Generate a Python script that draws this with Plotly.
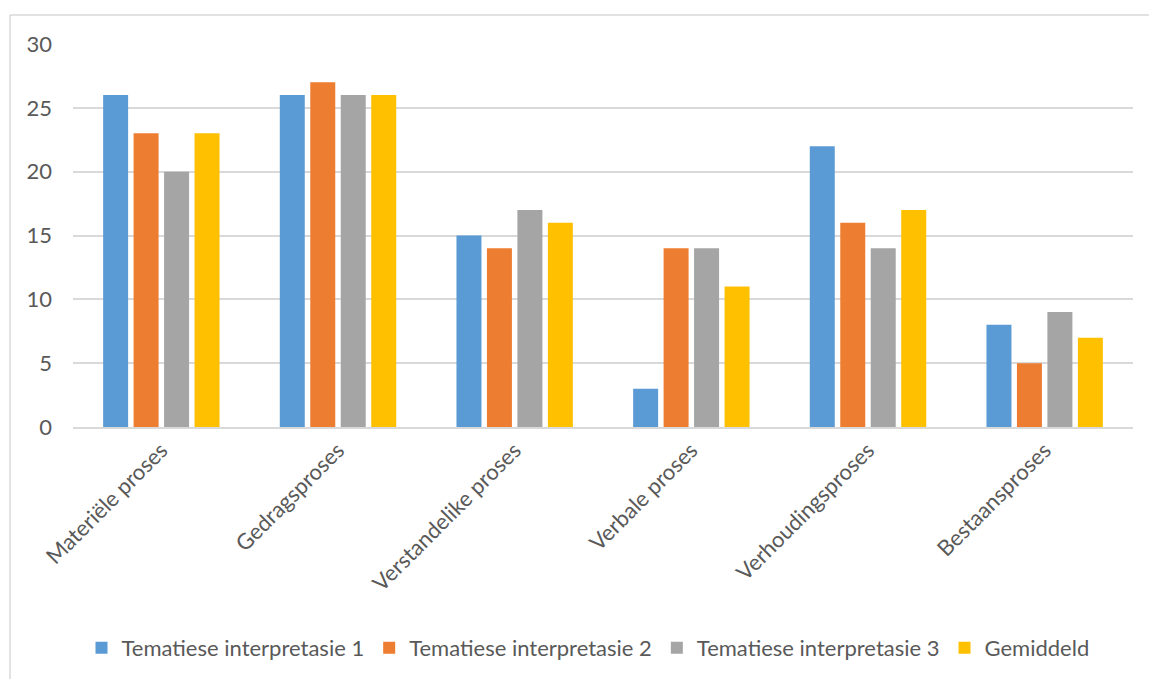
import plotly.graph_objects as go

categories = ["Materiële proses", "Gedragsproses", "Verstandelike proses",
              "Verbale proses", "Verhoudingsproses", "Bestaansproses"]
series_names = ["Tematiese interpretasie 1", "Tematiese interpretasie 2",
                "Tematiese interpretasie 3", "Gemiddeld"]
interp1 = [26, 26, 15, 3, 22, 8]
interp2 = [23, 27, 14, 14, 16, 5]
interp3 = [20, 26, 17, 14, 14, 9]
average = [23, 26, 16, 11, 17, 7]
y_ticks = [0, 5, 10, 15, 20, 25, 30]

colors = ["#5B9BD5", "#ED7D31", "#A5A5A5", "#FFC000"]
text_color = "#595959"
grid_color = "#D9D9D9"
font_family = "Lato, 'Open Sans', sans-serif"
fs = 22

W, H = 1149, 679
ml, mr, mt, mb = 73, 16, 44, 251

fig = go.Figure()
for name, vals, col in zip(series_names, [interp1, interp2, interp3, average], colors):
    fig.add_trace(go.Bar(name=name, x=categories, y=vals, marker_color=col,
                         marker_line_width=0))

plot_w = W - ml - mr
plot_h = H - mt - mb
# chart frame: left and top edges
x_left = (10 - ml) / plot_w
y_top = 1 + (mt - 15) / plot_h
y_bottom = -(H - mt - plot_h) / plot_h - 0.05
x_right = 1 + (mr + 5) / plot_w

fig.update_layout(
    width=W, height=H,
    margin=dict(l=ml, r=mr, t=mt, b=mb),
    paper_bgcolor="white", plot_bgcolor="white",
    barmode="group", bargap=0.31, bargroupgap=0.18,
    font=dict(family=font_family, size=fs, color=text_color),
    showlegend=True,
    legend=dict(orientation="h", x=(588 - ml) / plot_w, xanchor="center",
                y=(mt + plot_h - 648) / plot_h, yanchor="middle",
                font=dict(size=fs, color=text_color),
                itemwidth=30, tracegroupgap=0),
    xaxis=dict(tickangle=-45, showgrid=False, showline=True,
               linecolor=grid_color, linewidth=1.5, ticks="",
               tickfont=dict(size=fs, color=text_color)),
    yaxis=dict(range=[0, 30], tickvals=y_ticks, showgrid=True,
               gridcolor=grid_color, gridwidth=1.5, zeroline=False,
               showline=False, ticks="", ticklabelstandoff=20,
               tickfont=dict(size=fs, color=text_color)),
    shapes=[
        dict(type="line", xref="paper", yref="paper", x0=x_left, x1=x_left,
             y0=y_top, y1=y_bottom, line=dict(color=grid_color, width=1.5)),
        dict(type="line", xref="paper", yref="paper", x0=x_left, x1=x_right,
             y0=y_top, y1=y_top, line=dict(color=grid_color, width=1.5)),
    ],
)

fig.write_html("out.html")
